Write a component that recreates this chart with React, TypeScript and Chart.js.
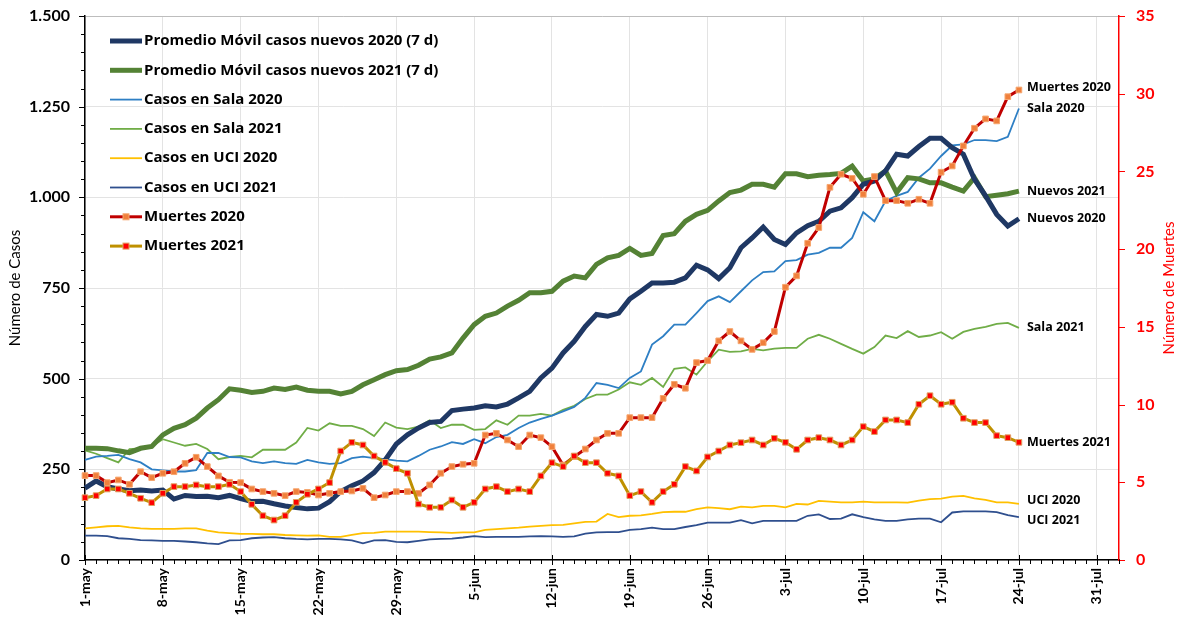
import React, { useEffect, useRef } from 'react';
import { Chart, registerables } from 'chart.js';

Chart.register(...registerables);

// ---------- categories ----------
const monthNames = ['may', 'jun', 'jul', 'ago'];
const monthLengths = [31, 30, 31, 2];
const dayLabels: string[] = [];
monthNames.forEach((m, k) => {
  for (let d = 1; d <= monthLengths[k]; d++) dayLabels.push(`${d}-${m}`);
});

// ---------- series (1-may .. 24-jul) ----------
const promedio2020 = [
  198, 218, 202, 196, 191, 193, 190, 193, 168, 178, 175, 176, 172, 178, 169, 161, 162, 155, 149, 145,
  141, 143, 161, 189, 205, 218, 241, 276, 320,
  345, 364, 379, 382, 412, 416, 419, 425, 422, 430, 447, 465, 502, 529, 571, 603, 644, 677, 672, 681,
  720, 741, 764, 764, 766, 778, 813, 800,
  776, 806, 861, 888, 918, 884, 870, 902, 922, 934, 962, 971, 999, 1036, 1045, 1073, 1119, 1114, 1140, 1163,
  1163, 1137, 1119, 1050, 1004, 953, 921, 941,
];
const promedio2021 = [
  308, 308, 307, 301, 296, 308, 313, 345, 363, 373, 391, 419, 442, 472, 468, 462, 465, 474, 470, 477,
  468, 465, 465, 458, 465, 483, 497, 511, 522,
  525, 537, 554, 560, 571, 612, 649, 672, 681, 700, 716, 737, 737, 741, 769, 783, 778, 815, 833, 840,
  859, 840, 845, 895, 900, 934, 953, 964,
  990, 1013, 1020, 1036, 1036, 1028, 1065, 1065, 1057, 1061, 1063, 1066, 1086, 1045, 1051, 1073, 1013, 1054, 1051, 1040,
  1040, 1028, 1017, 1054, 1002, 1006, 1010, 1017,
];
const sala2020 = [
  276, 285, 287, 290, 278, 269, 250, 247, 244, 244, 248, 295, 295, 284, 283, 272, 267, 272, 267, 265,
  276, 269, 265, 267, 281, 285, 281, 278, 274,
  272, 287, 304, 313, 325, 320, 333, 322, 339, 345, 364, 379, 389, 398, 410, 422, 447, 488, 483, 474,
  502, 520, 594, 617, 649, 649, 681, 714,
  727, 711, 741, 771, 794, 796, 824, 827, 842, 847, 861, 861, 888, 959, 934, 990, 1004, 1015, 1054, 1079,
  1114, 1143, 1146, 1158, 1158, 1155, 1167, 1245,
];
const sala2021 = [
  302, 293, 281, 269, 306, 308, 313, 333, 324, 315, 320, 306, 278, 284, 287, 283, 304, 304, 304, 324,
  364, 357, 377, 370, 370, 361, 342, 379, 365,
  361, 368, 385, 364, 373, 373, 359, 361, 385, 373, 398, 398, 403, 398, 414, 425, 444, 456, 456, 470,
  490, 483, 502, 477, 527, 531, 511, 548,
  580, 574, 575, 582, 578, 583, 585, 585, 610, 621, 610, 596, 582, 569, 587, 619, 612, 631, 615, 619,
  628, 610, 629, 637, 643, 651, 654, 640,
];
const uci2020 = [
  87, 90, 93, 94, 90, 87, 86, 86, 86, 87, 87, 81, 76, 74, 72, 72, 71, 71, 69, 68,
  67, 68, 64, 64, 69, 74, 75, 78, 78,
  78, 78, 77, 76, 75, 76, 76, 83, 85, 87, 89, 92, 94, 96, 97, 101, 105, 106, 127, 118,
  122, 123, 127, 132, 133, 133, 140, 145,
  143, 140, 147, 145, 149, 149, 145, 155, 153, 163, 161, 159, 159, 161, 159, 159, 159, 158, 164, 168,
  169, 175, 177, 170, 166, 159, 159, 155,
];
const uci2021 = [
  67, 67, 66, 60, 58, 55, 54, 53, 53, 51, 49, 46, 44, 54, 55, 60, 62, 63, 60, 58,
  57, 58, 58, 57, 54, 46, 54, 55, 50,
  49, 53, 57, 58, 59, 62, 66, 63, 64, 64, 64, 65, 66, 65, 64, 65, 73, 76, 77, 77,
  83, 85, 89, 85, 85, 91, 96, 103,
  103, 103, 110, 101, 108, 108, 108, 108, 122, 126, 113, 114, 126, 118, 112, 108, 108, 112, 114, 114,
  104, 131, 134, 134, 134, 132, 124, 118,
];
const muertes2020 = [
  5.43, 5.43, 4.98, 5.15, 4.87, 5.68, 5.3, 5.58, 5.68, 6.22, 6.61, 6.01, 5.41, 5.0, 4.98, 4.57, 4.4, 4.29, 4.14, 4.4,
  4.35, 4.18, 4.29, 4.4, 4.44, 4.61, 4.01, 4.18, 4.4,
  4.4, 4.29, 4.83, 5.58, 6.01, 6.16, 6.22, 8.04, 8.15, 7.72, 7.29, 8.04, 7.87, 7.29, 6.11, 6.65, 7.14, 7.72, 8.15, 8.15,
  9.16, 9.16, 9.16, 10.4, 11.3, 11.05, 12.7, 12.83,
  14.1, 14.7, 14.1, 13.55, 13.98, 14.7, 17.55, 18.28, 20.38, 21.39, 23.98, 24.82, 24.56, 23.53, 24.67, 23.12, 23.12, 22.95, 23.21, 22.95,
  24.95, 25.35, 26.64, 27.78, 28.38, 28.25, 29.81, 30.24,
];
const muertes2021 = [
  4.01, 4.14, 4.57, 4.57, 4.29, 3.97, 3.69, 4.29, 4.72, 4.72, 4.83, 4.72, 4.72, 4.87, 4.4, 3.58, 2.85, 2.57, 2.85, 3.71,
  4.23, 4.57, 4.98, 7.01, 7.57, 7.4, 6.69, 6.28, 5.88,
  5.58, 3.6, 3.39, 3.39, 3.86, 3.39, 3.71, 4.57, 4.72, 4.4, 4.57, 4.4, 5.41, 6.26, 6.01, 6.69, 6.26, 6.26, 5.58, 5.41,
  4.14, 4.4, 3.71, 4.4, 4.87, 6.01, 5.73, 6.63,
  7.01, 7.4, 7.55, 7.72, 7.4, 7.83, 7.57, 7.12, 7.72, 7.87, 7.72, 7.4, 7.72, 8.58, 8.26, 9.01, 9.01, 8.84, 10.02, 10.57,
  10.02, 10.15, 9.12, 8.84, 8.84, 8.0, 7.87, 7.57,
];

// ---------- texts ----------
const seriesNames = [
  'Promedio Móvil casos nuevos 2020 (7 d)',
  'Promedio Móvil casos nuevos 2021 (7 d)',
  'Casos en Sala 2020',
  'Casos en Sala 2021',
  'Casos en UCI 2020',
  'Casos en UCI 2021',
  'Muertes 2020',
  'Muertes 2021',
];
const endLabels = ['Nuevos 2020', 'Nuevos 2021', 'Sala 2020', 'Sala 2021', 'UCI 2020', 'UCI 2021', 'Muertes 2020', 'Muertes 2021'];
const endLabelShift = [0, 0, 0, 0, -3, 3, -3, 0];
const leftTitle = 'Número de Casos';
const rightTitle = 'Número de Muertes';

const FONT = 'Lato, "Liberation Sans", sans-serif';
const TEXT_FONT = '"Open Sans", Lato, sans-serif';

const fmtThousands = (v: number) =>
  v >= 1000 ? `${Math.floor(v / 1000)}.${String(v % 1000).padStart(3, '0')}` : String(v);

const decorPlugin = {
  id: 'decor',
  afterDraw(chart: any) {
    const { ctx, chartArea: ca, scales } = chart;
    const xs = scales.x, ys = scales.y, y1s = scales.y1;
    ctx.save();
    // left axis ticks
    ctx.strokeStyle = '#000';
    ctx.lineWidth = 1;
    for (let v = 0; v <= 1500; v += 50) {
      const py = Math.round(ys.getPixelForValue(v)) + 0.5;
      const len = v % 250 === 0 ? 6 : 4;
      ctx.beginPath();
      ctx.moveTo(ca.left - len, py);
      ctx.lineTo(ca.left, py);
      ctx.stroke();
    }
    // right axis ticks
    ctx.strokeStyle = '#ff0000';
    for (let v = 0; v <= 35; v += 5) {
      const py = Math.round(y1s.getPixelForValue(v)) + 0.5;
      ctx.beginPath();
      ctx.moveTo(ca.right, py);
      ctx.lineTo(ca.right + 6, py);
      ctx.stroke();
    }
    // x ticks
    ctx.strokeStyle = '#000';
    for (let i = 0; i < dayLabels.length; i++) {
      const px = Math.round(xs.getPixelForValue(i)) + 0.5;
      ctx.beginPath();
      if (i % 7 === 0) {
        ctx.moveTo(px, ca.bottom - 5);
        ctx.lineTo(px, ca.bottom + 5);
      } else {
        ctx.moveTo(px, ca.bottom);
        ctx.lineTo(px, ca.bottom + 4);
      }
      ctx.stroke();
    }
    // axis titles
    ctx.font = `15px ${FONT}`;
    ctx.textAlign = 'center';
    ctx.textBaseline = 'middle';
    ctx.fillStyle = '#000';
    ctx.save();
    ctx.translate(15, (ca.top + ca.bottom) / 2);
    ctx.rotate(-Math.PI / 2);
    ctx.fillText(leftTitle, 0, 0);
    ctx.restore();
    ctx.fillStyle = '#ff0000';
    ctx.save();
    ctx.translate(1169, (ca.top + ca.bottom) / 2);
    ctx.rotate(-Math.PI / 2);
    ctx.fillText(rightTitle, 0, 0);
    ctx.restore();

    // legend
    const ds = chart.data.datasets;
    ctx.textAlign = 'left';
    ctx.font = `bold 15px ${TEXT_FONT}`;
    ds.forEach((d: any, i: number) => {
      const cy = ca.top + 25 + i * 29.3;
      const x0 = ca.left + 25;
      const x1 = ca.left + 57;
      ctx.strokeStyle = d.borderColor;
      ctx.lineWidth = d.borderWidth;
      ctx.beginPath();
      ctx.moveTo(x0, cy);
      ctx.lineTo(x1, cy);
      ctx.stroke();
      if (d.pointRadius) {
        const s = 6;
        ctx.fillStyle = d.pointBackgroundColor;
        ctx.strokeStyle = d.pointBorderColor;
        ctx.lineWidth = 1;
        ctx.fillRect((x0 + x1) / 2 - s / 2, cy - s / 2, s, s);
        ctx.strokeRect((x0 + x1) / 2 - s / 2, cy - s / 2, s, s);
      }
      ctx.fillStyle = '#000';
      ctx.fillText(d.label, x1 + 2, cy);
    });

    // end-of-series labels
    ctx.font = `bold 12.5px ${TEXT_FONT}`;
    ds.forEach((d: any, i: number) => {
      const meta = chart.getDatasetMeta(i);
      const pt = meta.data[meta.data.length - 1];
      ctx.fillStyle = '#000';
      ctx.fillText(endLabels[i], pt.x + 8, pt.y + endLabelShift[i]);
    });
    ctx.restore();
  },
};

export default function App() {
  const ref = useRef<HTMLCanvasElement>(null);
  useEffect(() => {
    document.body.style.margin = '0';
    document.body.style.overflow = 'hidden';
    const line = (label: string, data: number[], color: string, width: number, axis: string, order: number) => ({
      label, data, borderColor: color, backgroundColor: color, borderWidth: width, yAxisID: axis,
      pointRadius: 0, order, tension: 0, fill: false,
    });
    const deaths = (label: string, data: number[], color: string, fillC: string, borderC: string, order: number) => ({
      label, data, borderColor: color, backgroundColor: fillC, borderWidth: 3, yAxisID: 'y1',
      pointRadius: 4, pointStyle: 'rect', pointBackgroundColor: fillC, pointBorderColor: borderC,
      pointBorderWidth: 1, order, tension: 0, fill: false,
    });
    const chart = new Chart(ref.current as HTMLCanvasElement, {
      type: 'line',
      data: {
        labels: dayLabels,
        datasets: [
          line(seriesNames[0], promedio2020, '#1f3864', 5, 'y', 2),
          line(seriesNames[1], promedio2021, '#548235', 5, 'y', 3),
          line(seriesNames[2], sala2020, '#2e7fc4', 1.8, 'y', 4),
          line(seriesNames[3], sala2021, '#70ad47', 1.8, 'y', 5),
          line(seriesNames[4], uci2020, '#ffc000', 1.8, 'y', 6),
          line(seriesNames[5], uci2021, '#2f4f8e', 1.8, 'y', 7),
          deaths(seriesNames[6], muertes2020, '#c00000', '#f0803c', '#f6a66e', 1),
          deaths(seriesNames[7], muertes2021, '#bf9000', '#ff0000', '#e0a060', 0),
        ] as any,
      },
      options: {
        responsive: false,
        animation: false,
        layout: { padding: { top: 16, left: 0, right: 0, bottom: 0 } },
        plugins: { legend: { display: false }, tooltip: { enabled: false } },
        scales: {
          x: {
            type: 'category',
            offset: false,
            grid: {
              color: (c: any) => (c.index % 7 === 0 ? '#e3e3e3' : 'transparent'),
              drawTicks: false,
            },
            border: { color: '#000', width: 1.5 },
            ticks: {
              autoSkip: false,
              maxRotation: 90,
              minRotation: 90,
              padding: 8,
              color: '#000',
              font: { family: FONT, size: 14, weight: 'bold' },
              callback: (_v: any, i: number) => (i % 7 === 0 ? dayLabels[i] : ''),
            },
            afterFit: (s: any) => { s.height = 57; },
          },
          y: {
            position: 'left',
            min: 0,
            max: 1500,
            ticks: {
              stepSize: 250,
              padding: 0,
              color: '#000',
              font: { family: FONT, size: 16, weight: 'bold' },
              callback: (v: any) => fmtThousands(Number(v)),
            },
            grid: {
              color: (c: any) => (c.tick && c.tick.value === 1500 ? '#bdbdbd' : '#e3e3e3'),
              drawTicks: true,
              tickLength: 15,
              tickColor: 'transparent',
            },
            border: { color: '#000', width: 1.5 },
            afterFit: (s: any) => { s.width = 85; },
          },
          y1: {
            position: 'right',
            min: 0,
            max: 35,
            ticks: {
              stepSize: 5,
              padding: 0,
              color: '#ff0000',
              font: { family: FONT, size: 16, weight: 'bold' },
            },
            grid: { drawOnChartArea: false, drawTicks: true, tickLength: 17, tickColor: 'transparent' },
            border: { color: '#ff0000', width: 1.5 },
            afterFit: (s: any) => { s.width = 59; },
          },
        },
      } as any,
      plugins: [decorPlugin],
    });
    return () => chart.destroy();
  }, []);
  return <canvas ref={ref} width={1178} height={617} style={{ display: 'block' }} />;
}
